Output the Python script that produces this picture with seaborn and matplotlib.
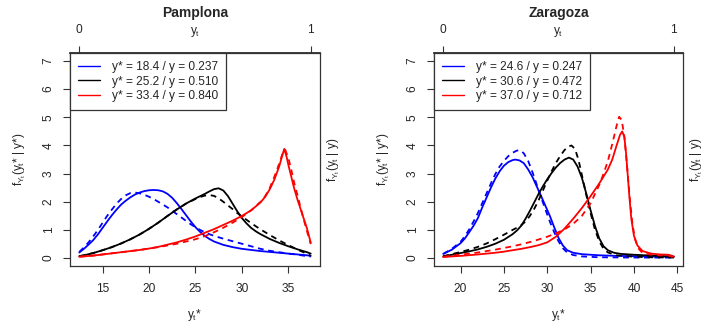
import numpy as np
import pandas as pd
import matplotlib
matplotlib.use("Agg")
import matplotlib.pyplot as plt
from matplotlib.lines import Line2D
import seaborn as sns

# ---------------- data ----------------
titles = ["Pamplona", "Zaragoza"]
legend_labels = [
    ["y* = 18.4 / y = 0.237", "y* = 25.2 / y = 0.510", "y* = 33.4 / y = 0.840"],
    ["y* = 24.6 / y = 0.247", "y* = 30.6 / y = 0.472", "y* = 37.0 / y = 0.712"],
]
series_colors = ["#0000FF", "#000000", "#FF0000"]
xticks_bottom = [[15, 20, 25, 30, 35], [20, 25, 30, 35, 40, 45]]
yticks = [0, 1, 2, 3, 4, 5, 6, 7]
top_ticks = [0, 1]
data_range = [(12.5, 37.4), (18.0, 44.6)]

# Pamplona
pam_blue_x = [12.5, 13.0, 13.5, 14.0, 14.5, 15.0, 15.5, 16.0, 16.5, 17.0, 17.5, 18.0, 18.5, 19.0, 19.5, 20.0, 20.5, 21.0, 21.5, 22.0, 22.5, 23.0, 23.5, 24.0, 24.5, 25.0, 25.5, 26.0, 26.5, 27.0, 28.0, 29.0, 30.0, 31.0, 32.0, 33.0, 34.0, 35.0, 36.0, 37.0, 37.4]
pam_blue_y = [0.2, 0.33, 0.48, 0.64, 0.84, 1.07, 1.3, 1.52, 1.72, 1.9, 2.04, 2.16, 2.26, 2.33, 2.38, 2.41, 2.42, 2.41, 2.37, 2.28, 2.14, 1.95, 1.74, 1.52, 1.3, 1.1, 0.93, 0.79, 0.68, 0.59, 0.47, 0.39, 0.33, 0.29, 0.25, 0.22, 0.19, 0.16, 0.13, 0.1, 0.08]
pam_blue_d_x = [12.5, 13.0, 13.5, 14.0, 14.5, 15.0, 15.5, 16.0, 16.5, 17.0, 17.5, 18.0, 18.5, 19.0, 19.5, 20.0, 20.5, 21.0, 21.5, 22.0, 22.5, 23.0, 23.5, 24.0, 24.5, 25.0, 25.5, 26.0, 26.5, 27.0, 27.5, 28.0, 29.0, 30.0, 31.0, 32.0, 33.0, 34.0, 35.0, 36.0, 37.0, 37.4]
pam_blue_d_y = [0.22, 0.38, 0.56, 0.77, 1.0, 1.25, 1.5, 1.72, 1.93, 2.1, 2.23, 2.31, 2.33, 2.3, 2.25, 2.18, 2.1, 2.0, 1.9, 1.8, 1.68, 1.56, 1.44, 1.32, 1.2, 1.1, 1.0, 0.92, 0.85, 0.79, 0.74, 0.69, 0.6, 0.51, 0.42, 0.33, 0.26, 0.21, 0.16, 0.12, 0.07, 0.05]
pam_black_x = [12.5, 13.0, 14.0, 15.0, 16.0, 17.0, 18.0, 19.0, 20.0, 21.0, 22.0, 23.0, 24.0, 25.0, 25.5, 26.0, 26.5, 27.0, 27.5, 28.0, 28.5, 29.0, 29.5, 30.0, 30.5, 31.0, 31.5, 32.0, 33.0, 34.0, 35.0, 36.0, 37.0, 37.4]
pam_black_y = [0.07, 0.1, 0.18, 0.28, 0.39, 0.52, 0.67, 0.84, 1.04, 1.26, 1.5, 1.73, 1.94, 2.12, 2.2, 2.28, 2.37, 2.45, 2.48, 2.4, 2.2, 1.93, 1.66, 1.42, 1.23, 1.07, 0.95, 0.85, 0.68, 0.54, 0.42, 0.31, 0.21, 0.16]
pam_black_d_x = [12.5, 13.0, 14.0, 15.0, 16.0, 17.0, 18.0, 19.0, 20.0, 21.0, 22.0, 23.0, 24.0, 25.0, 25.5, 26.0, 26.5, 27.0, 27.5, 28.0, 28.5, 29.0, 29.5, 30.0, 30.5, 31.0, 32.0, 33.0, 34.0, 35.0, 36.0, 37.0, 37.4]
pam_black_d_y = [0.07, 0.1, 0.18, 0.28, 0.39, 0.52, 0.67, 0.84, 1.04, 1.26, 1.5, 1.73, 1.94, 2.1, 2.17, 2.22, 2.24, 2.21, 2.12, 2.0, 1.87, 1.74, 1.6, 1.48, 1.36, 1.24, 1.02, 0.82, 0.63, 0.46, 0.3, 0.15, 0.08]
pam_red_x = [12.5, 14.0, 15.0, 16.0, 17.0, 18.0, 19.0, 20.0, 21.0, 22.0, 23.0, 24.0, 25.0, 26.0, 27.0, 28.0, 29.0, 30.0, 31.0, 32.0, 32.5, 33.0, 33.5, 34.0, 34.3, 34.55, 34.8, 35.0, 35.3, 35.6, 36.0, 36.5, 37.0, 37.4]
pam_red_y = [0.05, 0.09, 0.13, 0.17, 0.21, 0.25, 0.29, 0.34, 0.4, 0.48, 0.56, 0.66, 0.77, 0.9, 1.03, 1.18, 1.33, 1.5, 1.7, 1.98, 2.18, 2.45, 2.8, 3.25, 3.6, 3.88, 3.6, 3.3, 2.9, 2.5, 2.05, 1.55, 1.05, 0.55]
pam_red_d_x = [12.5, 14.0, 15.0, 16.0, 17.0, 18.0, 19.0, 20.0, 21.0, 22.0, 23.0, 24.0, 25.0, 26.0, 27.0, 28.0, 29.0, 30.0, 31.0, 32.0, 32.5, 33.0, 33.5, 34.0, 34.4, 34.65, 35.0, 35.3, 35.6, 36.0, 36.5, 37.0, 37.4]
pam_red_d_y = [0.05, 0.09, 0.13, 0.17, 0.21, 0.25, 0.29, 0.34, 0.39, 0.45, 0.51, 0.59, 0.67, 0.78, 0.92, 1.08, 1.26, 1.46, 1.7, 2.0, 2.2, 2.5, 2.9, 3.35, 3.75, 3.85, 3.55, 3.15, 2.7, 2.2, 1.55, 0.95, 0.5]

# Zaragoza
zar_blue_x = [18.0, 19.0, 20.0, 20.5, 21.0, 21.5, 22.0, 22.5, 23.0, 23.5, 24.0, 24.5, 25.0, 25.5, 26.0, 26.3, 26.8, 27.3, 27.8, 28.3, 28.8, 29.3, 29.8, 30.3, 30.8, 31.3, 31.8, 32.3, 33.0, 34.0, 36.0, 38.0, 40.0, 42.0, 44.6]
zar_blue_y = [0.15, 0.3, 0.53, 0.7, 0.92, 1.15, 1.42, 1.8, 2.15, 2.5, 2.82, 3.08, 3.28, 3.41, 3.48, 3.5, 3.47, 3.37, 3.15, 2.88, 2.54, 2.2, 1.85, 1.5, 1.1, 0.72, 0.45, 0.28, 0.19, 0.14, 0.1, 0.08, 0.07, 0.06, 0.05]
zar_blue_d_x = [18.0, 19.0, 20.0, 20.5, 21.0, 21.5, 22.0, 22.5, 23.0, 23.5, 24.0, 24.5, 25.0, 25.5, 26.0, 26.5, 26.9, 27.3, 27.8, 28.3, 28.8, 29.3, 29.8, 30.3, 30.8, 31.3, 31.8, 32.3, 33.0, 34.0, 36.0, 40.0, 44.6]
zar_blue_d_y = [0.15, 0.33, 0.58, 0.78, 1.02, 1.3, 1.6, 1.95, 2.3, 2.65, 2.98, 3.25, 3.45, 3.62, 3.74, 3.82, 3.83, 3.72, 3.45, 3.05, 2.6, 2.15, 1.72, 1.3, 0.92, 0.6, 0.35, 0.2, 0.11, 0.06, 0.03, 0.02, 0.02]
zar_black_x = [18.0, 19.0, 20.0, 21.0, 22.0, 23.0, 24.0, 25.0, 26.0, 26.5, 27.0, 27.5, 28.0, 28.5, 29.0, 29.5, 30.0, 30.5, 31.0, 31.5, 32.0, 32.5, 33.0, 33.5, 34.0, 34.5, 35.0, 35.5, 36.0, 36.5, 37.0, 37.7, 38.5, 40.0, 42.0, 44.6]
zar_black_y = [0.06, 0.12, 0.18, 0.24, 0.31, 0.4, 0.51, 0.65, 0.85, 0.98, 1.15, 1.4, 1.68, 1.98, 2.28, 2.55, 2.8, 3.02, 3.22, 3.38, 3.5, 3.57, 3.5, 3.25, 2.85, 2.3, 1.7, 1.15, 0.7, 0.42, 0.28, 0.19, 0.15, 0.12, 0.09, 0.05]
zar_black_d_x = [18.0, 19.0, 20.0, 21.0, 22.0, 23.0, 24.0, 25.0, 26.0, 26.5, 27.0, 27.5, 28.0, 28.5, 29.0, 29.5, 30.0, 30.5, 31.0, 31.5, 32.0, 32.5, 32.8, 33.2, 33.6, 34.0, 34.5, 35.0, 35.5, 36.0, 36.5, 37.0, 38.0, 40.0, 42.0, 44.6]
zar_black_d_y = [0.07, 0.14, 0.22, 0.3, 0.4, 0.52, 0.67, 0.83, 1.0, 1.08, 1.17, 1.3, 1.5, 1.75, 2.05, 2.4, 2.75, 3.08, 3.38, 3.63, 3.84, 3.97, 4.0, 3.88, 3.5, 2.95, 2.25, 1.6, 1.02, 0.6, 0.33, 0.2, 0.1, 0.05, 0.03, 0.02]
zar_red_x = [18.0, 20.0, 22.0, 24.0, 25.0, 26.0, 27.0, 28.0, 29.0, 30.0, 31.0, 32.0, 33.0, 34.0, 35.0, 36.0, 37.0, 37.5, 38.0, 38.4, 38.65, 38.9, 39.1, 39.3, 39.5, 39.7, 40.0, 40.4, 41.0, 42.0, 43.0, 44.0, 44.6]
zar_red_y = [0.04, 0.08, 0.13, 0.19, 0.23, 0.28, 0.33, 0.39, 0.46, 0.56, 0.76, 1.05, 1.4, 1.78, 2.2, 2.65, 3.15, 3.5, 4.0, 4.38, 4.5, 4.3, 3.7, 2.9, 2.1, 1.4, 0.8, 0.45, 0.25, 0.16, 0.13, 0.12, 0.06]
zar_red_d_x = [18.0, 20.0, 22.0, 24.0, 25.0, 26.0, 27.0, 28.0, 29.0, 30.0, 31.0, 32.0, 33.0, 34.0, 35.0, 36.0, 36.5, 37.0, 37.5, 38.0, 38.3, 38.6, 38.9, 39.2, 39.5, 39.8, 40.1, 40.5, 41.0, 42.0, 43.0, 44.0, 44.6]
zar_red_d_y = [0.05, 0.12, 0.2, 0.3, 0.36, 0.42, 0.49, 0.57, 0.66, 0.76, 0.88, 1.02, 1.22, 1.5, 1.95, 2.6, 3.0, 3.45, 4.05, 4.7, 5.02, 4.9, 4.3, 3.3, 2.2, 1.3, 0.7, 0.35, 0.18, 0.12, 0.1, 0.09, 0.03]

panels = [
    [(pam_blue_x, pam_blue_y, pam_blue_d_x, pam_blue_d_y),
     (pam_black_x, pam_black_y, pam_black_d_x, pam_black_d_y),
     (pam_red_x, pam_red_y, pam_red_d_x, pam_red_d_y)],
    [(zar_blue_x, zar_blue_y, zar_blue_d_x, zar_blue_d_y),
     (zar_black_x, zar_black_y, zar_black_d_x, zar_black_d_y),
     (zar_red_x, zar_red_y, zar_red_d_x, zar_red_d_y)],
]

# ---------------- style ----------------
sns.set_theme(style="ticks")
plt.rcParams["font.family"] = ["Liberation Sans", "DejaVu Sans"]
plt.rcParams["mathtext.fontset"] = "custom"
plt.rcParams["mathtext.rm"] = "Liberation Sans"
plt.rcParams["mathtext.it"] = "Liberation Sans"
plt.rcParams["mathtext.bf"] = "Liberation Sans:bold"

FS = 8.6
fig = plt.figure(figsize=(7.05, 3.28), dpi=100)
axes_rect = [[0.0993, 0.189, 0.3546, 0.649], [0.6156, 0.189, 0.3532, 0.649]]

for i in range(2):
    ax = fig.add_axes(axes_rect[i])
    for (sx, sy, dx, dy), col in zip(panels[i], series_colors):
        sns.lineplot(x=sx, y=sy, color=col, lw=1.3, ax=ax, sort=False)
        sns.lineplot(x=dx, y=dy, color=col, lw=1.3, ax=ax, sort=False,
                     linestyle=(0, (3.2, 2.6)))
    a, b = data_range[i]
    pad = 0.04 * (b - a)
    ax.set_xlim(a - pad, b + pad)
    ax.set_ylim(-0.28, 7.28)
    ax.set_xticks(xticks_bottom[i])
    ax.set_xticklabels([str(t) for t in xticks_bottom[i]], fontsize=FS)
    ax.set_yticks(yticks)
    ax.set_yticklabels([str(t) for t in yticks], fontsize=FS, rotation=90, va="center")
    ax.tick_params(axis="both", direction="out", length=5, width=0.8, color="#333333", pad=6)
    ax.tick_params(axis="x", pad=7)
    for sp in ax.spines.values():
        sp.set_visible(True)
        sp.set_color("#333333")
        sp.set_linewidth(0.9)

    sec = ax.secondary_xaxis("top",
                             functions=(lambda x, a=a, b=b: (x - a) / (b - a),
                                        lambda u, a=a, b=b: a + u * (b - a)))
    sec.set_xticks(top_ticks)
    sec.set_xticklabels([str(t) for t in top_ticks], fontsize=FS)
    sec.tick_params(direction="out", length=5, width=0.8, color="#333333", pad=7)

    ax.set_xlabel("")
    ax.set_ylabel("")
    ax.text(0.5, 1.10, r"$y_t$", transform=ax.transAxes, ha="center", va="center", fontsize=FS)
    ax.text(0.5, 1.19, titles[i], transform=ax.transAxes, ha="center", va="center",
            fontsize=10, fontweight="bold")
    ax.text(0.5, -0.23, r"$y_t$*", transform=ax.transAxes, ha="center", va="center", fontsize=FS)
    ax.text(-0.2, 0.5, r"$f_{Y_t}(y_t$* | $y$*$)$", transform=ax.transAxes, ha="center",
            va="center", rotation=90, fontsize=FS)
    ax.text(1.056, 0.5, r"$f_{Y_t}(y_t$ | $y)$", transform=ax.transAxes, ha="center",
            va="center", rotation=90, fontsize=FS, clip_on=False)

    handles = [Line2D([0], [0], color=c, lw=1.0) for c in series_colors]
    leg = ax.legend(handles, legend_labels[i], loc="upper left", borderaxespad=0,
                    fontsize=FS, frameon=True, fancybox=False, framealpha=1,
                    edgecolor="#333333", handlelength=1.85, handletextpad=0.95,
                    labelspacing=0.18, borderpad=0.7)
    leg.get_frame().set_linewidth(0.9)

fig.savefig("out.png", dpi=100)
